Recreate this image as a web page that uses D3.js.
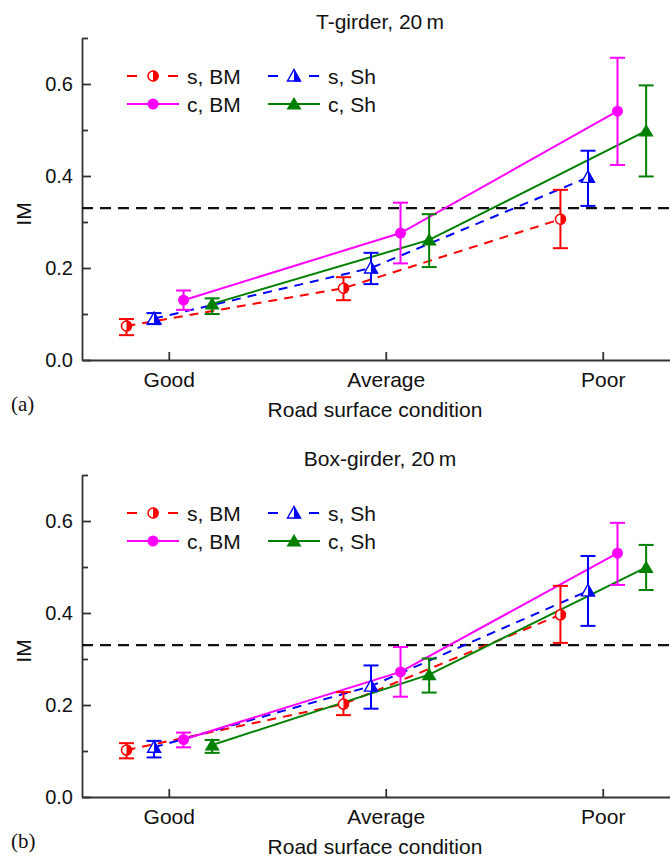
<!DOCTYPE html>
<html>
<head>
<meta charset="utf-8">
<script src="https://cdn.jsdelivr.net/npm/d3@7"></script>
<style>
    body { margin: 0; background: #fff; }
    svg { display: block; }
    text { font-family: "Liberation Sans", Arial, sans-serif; fill: #111; }
    .axis path, .axis line { stroke: #333; stroke-width: 1.8; }
    .axis text { font-size: 20px; fill: #111; }
    .x-axis text { font-size: 21px; }
</style>
</head>
<body>
<div id="chart"></div>
<script>
// data (Good, Average, Poor for each series)
var categories = ['Good', 'Average', 'Poor'];
var series_labels = ['s, BM', 's, Sh', 'c, BM', 'c, Sh'];

var t_mean = [[0.074, 0.156, 0.306], [0.090, 0.200, 0.397], [0.130, 0.276, 0.541], [0.122, 0.261, 0.498]];
var t_low  = [[0.054, 0.130, 0.243], [0.078, 0.165, 0.335], [0.109, 0.210, 0.424], [0.100, 0.202, 0.399]];
var t_high = [[0.089, 0.180, 0.370], [0.102, 0.233, 0.455], [0.151, 0.342, 0.657], [0.134, 0.317, 0.597]];

var box_mean = [[0.102, 0.202, 0.396], [0.108, 0.241, 0.448], [0.125, 0.272, 0.530], [0.113, 0.266, 0.499]];
var box_low  = [[0.084, 0.178, 0.335], [0.086, 0.192, 0.372], [0.108, 0.218, 0.461], [0.096, 0.227, 0.450]];
var box_high = [[0.117, 0.228, 0.459], [0.122, 0.286, 0.524], [0.140, 0.326, 0.596], [0.124, 0.301, 0.548]];

var y_ticks = [0, 0.2, 0.4, 0.6];
var y_minor_ticks = [0.1, 0.3, 0.5, 0.7];
var im_limit = 0.33;

// styling per series
var STYLES = [
    {color: '#ff0000', dash: '9,7', marker: 'half-circle', offset: -0.195},
    {color: '#0000ff', dash: '9,7', marker: 'half-triangle', offset: -0.068},
    {color: '#ff00ff', dash: null, marker: 'circle', offset: 0.068},
    {color: '#008000', dash: null, marker: 'triangle', offset: 0.2}
];

var WIDTH = 670, HEIGHT = 858;
var LEFT = 82;

var svg = d3.select('#chart').append('svg')
    .attr('width', WIDTH)
    .attr('height', HEIGHT);

var scale_x = d3.scaleLinear().domain([0.6, 3.31]).range([LEFT, WIDTH]);

var draw_marker = function(g, type, color, cx, cy) {
    if (type === 'circle') {
        g.append('circle').attr('cx', cx).attr('cy', cy).attr('r', 5.5).attr('fill', color);
    } else if (type === 'half-circle') {
        g.append('circle').attr('cx', cx).attr('cy', cy).attr('r', 5)
            .attr('fill', '#fff').attr('stroke', color).attr('stroke-width', 1.5);
        g.append('path')
            .attr('d', 'M' + cx + ',' + (cy - 5.7) + ' A5.7,5.7 0 0,1 ' + cx + ',' + (cy + 5.7) + ' Z')
            .attr('fill', color);
    } else if (type === 'triangle') {
        g.append('path')
            .attr('d', 'M' + cx + ',' + (cy - 7) + ' L' + (cx + 7.5) + ',' + (cy + 5.5) + ' L' + (cx - 7.5) + ',' + (cy + 5.5) + ' Z')
            .attr('fill', color);
    } else {
        g.append('path')
            .attr('d', 'M' + cx + ',' + (cy - 6.5) + ' L' + (cx + 6.5) + ',' + (cy + 5) + ' L' + (cx - 6.5) + ',' + (cy + 5) + ' Z')
            .attr('fill', '#fff').attr('stroke', color).attr('stroke-width', 1.4);
        g.append('path')
            .attr('d', 'M' + cx + ',' + (cy - 7) + ' L' + (cx + 7.2) + ',' + (cy + 5.6) + ' L' + cx + ',' + (cy + 5.6) + ' Z')
            .attr('fill', color);
    }
};

var draw_panel = function(y0, title, letter, mean, low, high) {
    var scale_y = d3.scaleLinear().domain([0, 0.7]).range([y0, y0 - 322]);
    var g = svg.append('g');

    // axes
    g.append('g').attr('class', 'axis x-axis')
        .attr('transform', 'translate(0,' + y0 + ')')
        .call(d3.axisBottom(scale_x)
            .tickValues([1, 2, 3])
            .tickFormat(function(d) { return categories[d - 1]; })
            .tickSizeInner(-8).tickSizeOuter(0).tickPadding(12));
    g.append('g').attr('class', 'axis')
        .attr('transform', 'translate(' + LEFT + ',0)')
        .call(d3.axisLeft(scale_y)
            .tickValues(y_ticks)
            .tickFormat(d3.format('.1f'))
            .tickSizeInner(-9).tickSizeOuter(0).tickPadding(9));
    g.append('g').attr('class', 'axis')
        .attr('transform', 'translate(' + LEFT + ',0)')
        .call(d3.axisLeft(scale_y)
            .tickValues(y_minor_ticks)
            .tickFormat('')
            .tickSizeInner(-6).tickSizeOuter(0))
        .select('.domain').remove();

    // IM limit
    g.append('line')
        .attr('x1', LEFT).attr('x2', WIDTH)
        .attr('y1', scale_y(im_limit)).attr('y2', scale_y(im_limit))
        .attr('stroke', '#111').attr('stroke-width', 2.2)
        .attr('stroke-dasharray', '11,7');

    // connecting lines
    var line = d3.line()
        .x(function(d, i) { return d.x; })
        .y(function(d) { return scale_y(d.v); });
    mean.forEach(function(vals, s) {
        var pts = vals.map(function(v, i) { return {x: scale_x(i + 1 + STYLES[s].offset), v: v}; });
        g.append('path')
            .datum(pts)
            .attr('d', line)
            .attr('fill', 'none')
            .attr('stroke', STYLES[s].color)
            .attr('stroke-width', 2)
            .attr('stroke-dasharray', STYLES[s].dash);
    });

    // error bars and markers
    mean.forEach(function(vals, s) {
        var st = STYLES[s];
        vals.forEach(function(v, i) {
            var cx = scale_x(i + 1 + st.offset);
            var yl = scale_y(low[s][i]), yh = scale_y(high[s][i]);
            g.append('line').attr('x1', cx).attr('x2', cx).attr('y1', yl).attr('y2', yh)
                .attr('stroke', st.color).attr('stroke-width', 2);
            [yl, yh].forEach(function(yy) {
                g.append('line').attr('x1', cx - 7.5).attr('x2', cx + 7.5).attr('y1', yy).attr('y2', yy)
                    .attr('stroke', st.color).attr('stroke-width', 2);
            });
            draw_marker(g, st.marker, st.color, cx, scale_y(v));
        });
    });

    // legend
    var top = y0 - 322;
    series_labels.forEach(function(label, s) {
        var st = STYLES[s];
        var col = s % 2, row = Math.floor(s / 2);
        var x1 = col === 0 ? 127 : 268;
        var ly = top + 38 + row * 28;
        if (st.dash) {
            g.append('line').attr('x1', x1).attr('x2', x1 + 10).attr('y1', ly).attr('y2', ly)
                .attr('stroke', st.color).attr('stroke-width', 2);
            g.append('line').attr('x1', x1 + 41).attr('x2', x1 + 51).attr('y1', ly).attr('y2', ly)
                .attr('stroke', st.color).attr('stroke-width', 2);
        } else {
            g.append('line').attr('x1', x1).attr('x2', x1 + 52).attr('y1', ly).attr('y2', ly)
                .attr('stroke', st.color).attr('stroke-width', 2);
        }
        draw_marker(g, st.marker, st.color, x1 + 26, ly);
        g.append('text').attr('x', x1 + 60).attr('y', ly + 7.5)
            .attr('font-size', 21).text(label);
    });

    // titles
    g.append('text').attr('x', 380).attr('y', y0 - 331)
        .attr('text-anchor', 'middle').attr('font-size', 21).text(title);
    g.append('text')
        .attr('transform', 'translate(31,' + (y0 - 146) + ') rotate(-90)')
        .attr('text-anchor', 'middle').attr('font-size', 21).text('IM');
    g.append('text').attr('x', 375).attr('y', y0 + 57)
        .attr('text-anchor', 'middle').attr('font-size', 21).text('Road surface condition');
    g.append('text').attr('x', 11).attr('y', y0 + 51)
        .style('font-family', '"Liberation Serif", "Times New Roman", serif')
        .attr('font-size', 21).text(letter);
};

draw_panel(360, 'T-girder, 20\u2009m', '(a)', t_mean, t_low, t_high);
draw_panel(797, 'Box-girder, 20\u2009m', '(b)', box_mean, box_low, box_high);
</script>
</body>
</html>
